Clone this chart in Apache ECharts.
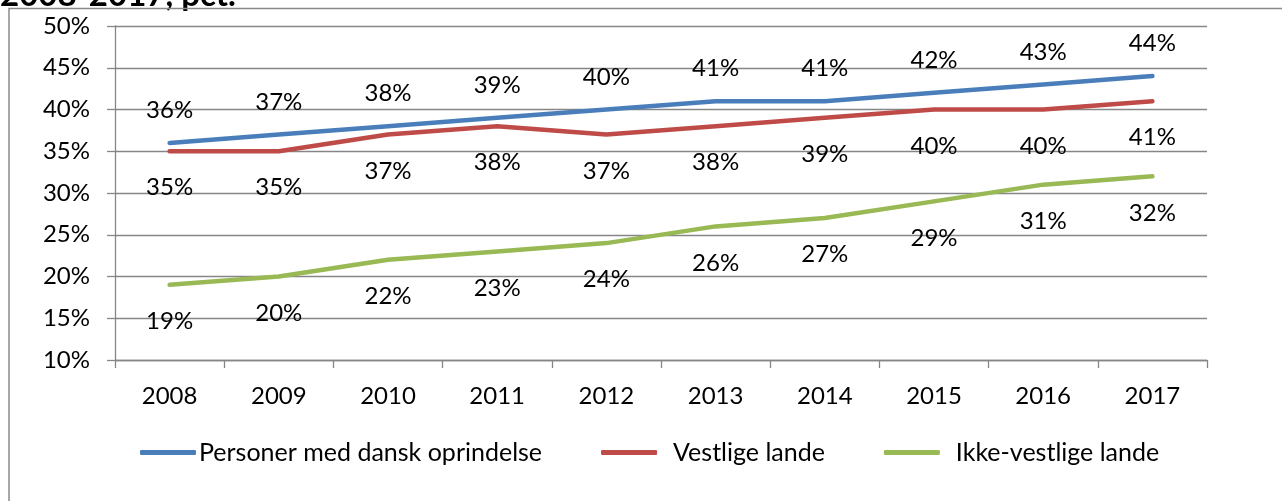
<!DOCTYPE html>
<html>
<head>
<meta charset="utf-8">
<script src="https://cdn.jsdelivr.net/npm/echarts@6/dist/echarts.min.js"></script>
<style>
  html, body { margin: 0; padding: 0; background: #fff; }
  #chart { width: 1282px; height: 501px; }
</style>
</head>
<body>
<div id="chart"></div>
<script>
// årstal og andele i pct.
const years = ['2008', '2009', '2010', '2011', '2012', '2013', '2014', '2015', '2016', '2017']
const danskOprindelse = [36, 37, 38, 39, 40, 41, 41, 42, 43, 44]
const vestligeLande = [35, 35, 37, 38, 37, 38, 39, 40, 40, 41]
const ikkeVestligeLande = [19, 20, 22, 23, 24, 26, 27, 29, 31, 32]

const seriesNames = ['Personer med dansk oprindelse', 'Vestlige lande', 'Ikke-vestlige lande']
const colors = ['#4a7ebb', '#be4b48', '#98b954']

const font = 'Lato, "Open Sans", sans-serif'
const gray = '#868686'

function lineSeries(name, data, color, labelPos, dist) {
  return {
    name,
    type: 'line',
    data,
    showSymbol: true,
    showAllSymbol: true,
    symbol: 'circle',
    symbolSize: 1,
    lineStyle: { color, width: 4.5, cap: 'round', join: 'round' },
    itemStyle: { color },
    label: {
      show: true,
      position: labelPos,
      distance: dist,
      formatter: p => p.value + '%',
      color: '#000',
      fontFamily: font,
      fontSize: 24,
    },
    labelLayout: { hideOverlap: false },
    emphasis: { disabled: true },
  }
}

const chart = echarts.init(document.getElementById('chart'))
chart.setOption({
  animation: false,
  backgroundColor: '#fff',
  textStyle: { fontFamily: font },
  graphic: [
    {
      type: 'text',
      x: 0,
      y: 12,
      style: { text: '2008-2017, pct.', font: 'bold 33px ' + font, fill: '#000', verticalAlign: 'bottom' },
    },
    {
      type: 'rect',
      shape: { x: 9, y: 8.5, width: 1400, height: 600 },
      style: { fill: 'none', stroke: '#8a8a8a', lineWidth: 1.5 },
      silent: true,
    },
  ],
  grid: { left: 115, right: 75, top: 26, bottom: 141, containLabel: false },
  legend: {
    data: seriesNames.map((n, i) => ({
      name: n,
      icon: 'roundRect',
      itemStyle: { color: colors[i] },
      textStyle: { padding: [0, 0, 0, i === 0 ? -2 : 11] },
    })),
    top: 435,
    left: 135,
    itemWidth: 56,
    itemHeight: 5,
    itemGap: 59,
    textStyle: { fontFamily: font, fontSize: 25, color: '#000' },
  },
  xAxis: {
    type: 'category',
    data: years,
    boundaryGap: true,
    axisLine: { show: true, lineStyle: { color: gray, width: 1.3 } },
    axisTick: { show: true, length: 8, lineStyle: { color: gray, width: 1.3 } },
    axisLabel: { color: '#000', fontFamily: font, fontSize: 24, margin: 24 },
  },
  yAxis: {
    type: 'value',
    min: 10,
    max: 50,
    interval: 5,
    axisLine: { show: true, lineStyle: { color: gray, width: 1.3 } },
    axisTick: { show: true, length: 8, lineStyle: { color: gray, width: 1.3 } },
    splitLine: { show: true, lineStyle: { color: gray, width: 1.3 } },
    axisLabel: { color: '#000', fontFamily: font, fontSize: 24, margin: 25, formatter: '{value}%' },
  },
  series: [
    lineSeries(seriesNames[0], danskOprindelse, colors[0], 'top', 20),
    lineSeries(seriesNames[1], vestligeLande, colors[1], 'bottom', 24),
    lineSeries(seriesNames[2], ikkeVestligeLande, colors[2], 'bottom', 24),
  ],
})
</script>
</body>
</html>
